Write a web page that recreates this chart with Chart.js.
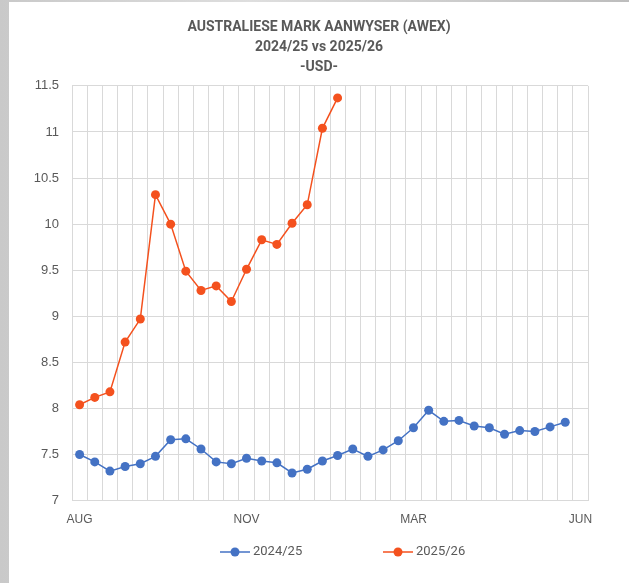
<!DOCTYPE html>
<html>
<head>
<meta charset="utf-8">
<script src="https://cdn.jsdelivr.net/npm/chart.js@4.4.1/dist/chart.umd.min.js"></script>
<style>
  html, body { margin: 0; padding: 0; }
  body {
    width: 629px; height: 583px; overflow: hidden;
    background: linear-gradient(90deg, #c9c9c9, #dedede 40%, #bdbdbd);
  }
  #panel {
    position: absolute; left: 9px; top: 2px; width: 620px; height: 581px;
    background: #fff;
  }
</style>
</head>
<body>
<div id="panel"><canvas id="awex" width="620" height="581"></canvas></div>
<script>
// x axis: 34 weekly slots, a label every 11th slot
const tickLabels = ['AUG', 'NOV', 'MAR', 'JUN'];
const slotCount = 34;
const labelStep = 11;

const season1Label = '2024/25';
const season1 = [7.50, 7.42, 7.32, 7.37, 7.40, 7.48, 7.66, 7.67, 7.56, 7.42,
                 7.40, 7.46, 7.43, 7.41, 7.30, 7.34, 7.43, 7.49, 7.56, 7.48,
                 7.55, 7.65, 7.79, 7.98, 7.86, 7.87, 7.81, 7.79, 7.72, 7.76,
                 7.75, 7.80, 7.85];

const season2Label = '2025/26';
const season2 = [8.04, 8.12, 8.18, 8.72, 8.97, 10.32, 10.00, 9.49, 9.28, 9.33,
                 9.16, 9.51, 9.83, 9.78, 10.01, 10.21, 11.04, 11.37];

const blue = '#4472C4';
const red = '#F4511E';
const textGrey = '#595959';
const gridGrey = '#D9D9D9';

const categories = [];
for (let i = 0; i < slotCount; i++) {
    categories.push(i % labelStep === 0 ? tickLabels[i / labelStep] : '');
}

// legend drawn under the plot: short line with a dot, then the season name
const lineLegend = {
    id: 'lineLegend',
    afterDraw(chart) {
        const ctx = chart.ctx;
        const y = 550;
        const starts = [211, 374];
        ctx.save();
        ctx.font = '13px Roboto';
        ctx.textBaseline = 'middle';
        chart.data.datasets.forEach((ds, i) => {
            const x = starts[i];
            ctx.strokeStyle = ds.borderColor;
            ctx.lineWidth = 1.5;
            ctx.beginPath();
            ctx.moveTo(x, y);
            ctx.lineTo(x + 30, y);
            ctx.stroke();
            ctx.fillStyle = ds.borderColor;
            ctx.beginPath();
            ctx.arc(x + 15, y, 4.5, 0, Math.PI * 2);
            ctx.fill();
            ctx.fillStyle = textGrey;
            ctx.fillText(ds.label, x + 33, y);
        });
        ctx.restore();
    }
};

new Chart(document.getElementById('awex'), {
    type: 'line',
    data: {
        labels: categories,
        datasets: [{
            label: season1Label,
            data: season1,
            borderColor: blue,
            backgroundColor: blue,
            borderWidth: 1.5,
            pointRadius: 4.5,
            pointBorderWidth: 0,
            tension: 0
        }, {
            label: season2Label,
            data: season2,
            borderColor: red,
            backgroundColor: red,
            borderWidth: 1.5,
            pointRadius: 4.5,
            pointBorderWidth: 0,
            tension: 0
        }]
    },
    plugins: [lineLegend],
    options: {
        responsive: false,
        animation: false,
        layout: { padding: { left: 0, right: 0, top: 15, bottom: 44 } },
        scales: {
            x: {
                offset: true,
                grid: { offset: true, color: gridGrey, drawTicks: false },
                border: { color: gridGrey },
                ticks: {
                    autoSkip: false,
                    maxRotation: 0,
                    padding: 12,
                    color: textGrey,
                    font: { family: 'Liberation Sans', size: 12 }
                }
            },
            y: {
                min: 7,
                max: 11.5,
                afterFit: (scale) => { scale.width = 63; },
                grid: { color: gridGrey, drawTicks: false },
                border: { color: gridGrey },
                ticks: {
                    stepSize: 0.5,
                    padding: 13,
                    color: textGrey,
                    font: { family: 'Liberation Sans', size: 13 },
                    callback: (v) => String(v)
                }
            },
            // empty right-hand margin so the title stays centred on the panel
            spacer: {
                type: 'linear',
                position: 'right',
                afterFit: (scale) => { scale.width = 41; },
                grid: { display: false },
                border: { display: false },
                ticks: { display: false }
            }
        },
        plugins: {
            title: {
                display: true,
                text: ['AUSTRALIESE MARK AANWYSER (AWEX)', '2024/25 vs 2025/26', '-USD-'],
                color: textGrey,
                font: { family: 'Roboto', size: 14, weight: 'bold', lineHeight: 1.45 },
                padding: { top: 0, bottom: 8 }
            },
            legend: { display: false },
            tooltip: { enabled: false }
        }
    }
});
</script>
</body>
</html>
